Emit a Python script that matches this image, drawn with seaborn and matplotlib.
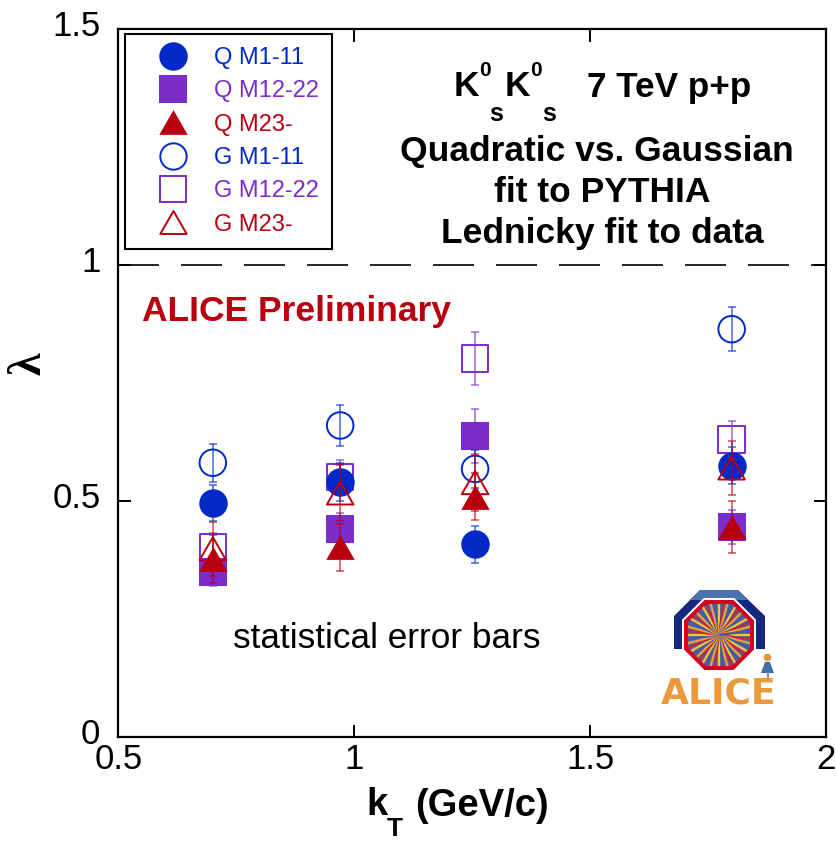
import numpy as np
import pandas as pd
import matplotlib
matplotlib.use('Agg')
import matplotlib.pyplot as plt
from matplotlib.collections import LineCollection
from matplotlib.lines import Line2D
from matplotlib.patches import Polygon
from matplotlib.path import Path
from matplotlib.transforms import ScaledTranslation
import seaborn as sns

BLUE, PURPLE, RED = '#0029C8', '#7B2CCB', '#B8000F'

kt = [0.70, 0.97, 1.256, 1.80]

q_m1 = [0.496, 0.541, 0.408, 0.575]
q_m1_err = [0.038, 0.040, 0.040, 0.040]
q_m12 = [0.350, 0.440, 0.637, 0.445]
q_m12_err = [0.030, 0.035, 0.057, 0.036]
q_m23 = [0.377, 0.402, 0.509, 0.445]
q_m23_err = [0.050, 0.050, 0.050, 0.056]
g_m1 = [0.581, 0.660, 0.568, 0.864]
g_m1_err = [0.040, 0.044, 0.040, 0.047]
g_m12 = [0.402, 0.551, 0.802, 0.630]
g_m12_err = [0.030, 0.036, 0.057, 0.040]
g_m23 = [0.399, 0.517, 0.539, 0.570]
g_m23_err = [0.057, 0.060, 0.060, 0.057]

TRI = Path([(-1, -0.87), (1, -0.87), (0, 0.87), (-1, -0.87)], closed=True)

# drawn back to front
series = [
    ('G M12-22', g_m12, g_m12_err, 's', PURPLE, False),
    ('Q M12-22', q_m12, q_m12_err, 's', PURPLE, True),
    ('G M1-11', g_m1, g_m1_err, 'o', BLUE, False),
    ('Q M1-11', q_m1, q_m1_err, 'o', BLUE, True),
    ('G M23-', g_m23, g_m23_err, TRI, RED, False),
    ('Q M23-', q_m23, q_m23_err, TRI, RED, True),
]
legend_order = ['Q M1-11', 'Q M12-22', 'Q M23-', 'G M1-11', 'G M12-22', 'G M23-']

sns.set_theme(style='ticks')
plt.rcParams['font.family'] = ['Liberation Sans', 'DejaVu Sans']

W, H = 837, 843
fig = plt.figure(figsize=(W/100, H/100), dpi=100)
ax = fig.add_axes([118.5/W, 1-737/H, 707.5/W, 708/H])

handles = {}
for i, (name, vals, errs, mk, col, filled) in enumerate(series):
    df = pd.DataFrame({'kt': kt, 'lam': vals})
    ax.errorbar(kt, vals, yerr=errs, fmt='none', ecolor=col, elinewidth=1.1, alpha=0.7,
                capsize=3.2, capthick=1.1, zorder=3+i*0.1)
    sns.scatterplot(data=df, x='kt', y='lam', ax=ax, marker=mk, s=420 if filled else 365,
                    color=col if filled else 'none', edgecolor=col,
                    linewidth=0 if filled else 1.4, zorder=3.05+i*0.1, legend=False)
    handles[name] = Line2D([], [], linestyle='none', marker=mk, markersize=20.5 if filled else 19,
                           markerfacecolor=col if filled else 'none', markeredgecolor=col,
                           markeredgewidth=0 if filled else 1.4, label=name, color=col)

ax.axhline(1, color='black', lw=1.2, linestyle=(0, (24.6, 13.2)), zorder=2)

ax.set_xlim(0.5, 2)
ax.set_ylim(0, 1.5)
ax.set_xticks([0.5, 1, 1.5, 2])
ax.set_xticklabels(['0.5', '1', '1.5', '2'])
ax.set_yticks([0, 0.5, 1, 1.5])
ax.set_yticklabels(['0', '0.5', '1', '1.5'])
ax.tick_params(direction='in', length=9, width=1.4, top=True, right=True, labelsize=25, colors='black')
ax.tick_params(axis='x', pad=4)
ax.tick_params(axis='y', pad=13)
ax.set_xlabel('')
ax.set_ylabel('')
for s in ax.spines.values():
    s.set_linewidth(1.6)
    s.set_color('black')
# y tick labels sit a little above their ticks in the original
up = ScaledTranslation(0, 4.5/72, fig.dpi_scale_trans)
for lab in ax.get_yticklabels():
    lab.set_transform(lab.get_transform() + up)

leg = ax.legend(handles=[handles[n] for n in legend_order], loc='upper left',
                bbox_to_anchor=(125/W, 1-34/H), bbox_transform=fig.transFigure, borderaxespad=0,
                fontsize=17, borderpad=0.55, handlelength=2.97, handletextpad=0.25,
                labelspacing=0.48, fancybox=False, framealpha=1, edgecolor='black')
leg.get_frame().set_linewidth(1.5)
leg.set_zorder(6)
for t, n in zip(leg.get_texts(), legend_order):
    t.set_color(handles[n].get_color())


def ptext(px, py, s, **kw):
    # text placed by picture position
    kw.setdefault('ha', 'center')
    kw.setdefault('va', 'center')
    kw.setdefault('color', 'black')
    return fig.text(px/W, 1-py/H, s, **kw)


ptext(30, 364, 'λ', fontsize=33, fontweight='bold', rotation=90, family=['Liberation Serif', 'DejaVu Serif'])
ptext(377, 805, 'k', fontsize=27.5, fontweight='bold')
ptext(395, 829, 'T', fontsize=19, fontweight='bold')
ptext(482, 806, '(GeV/c)', fontsize=27.5, fontweight='bold')

ptext(466, 86, 'K', fontsize=25.5, fontweight='bold')
ptext(485, 70, '0', fontsize=15, fontweight='bold')
ptext(496, 114, 's', fontsize=18, fontweight='bold')
ptext(517, 86, 'K', fontsize=25.5, fontweight='bold')
ptext(536, 70, '0', fontsize=15, fontweight='bold')
ptext(549, 114, 's', fontsize=18, fontweight='bold')
ptext(669, 87, '7 TeV p+p', fontsize=25.3, fontweight='bold')
ptext(597, 151, 'Quadratic vs. Gaussian', fontsize=25.5, fontweight='bold')
ptext(602, 193, 'fit to PYTHIA', fontsize=25.5, fontweight='bold')
ptext(602, 233, 'Lednicky fit to data', fontsize=25.5, fontweight='bold')
ptext(296, 312, 'ALICE Preliminary', fontsize=25.5, fontweight='bold', color=RED)
ptext(387, 638, 'statistical error bars', fontsize=25.3)

# ALICE logo, in picture pixels
logo = fig.add_axes([0, 0, 1, 1], facecolor='none')
logo.set_xlim(0, W)
logo.set_ylim(H, 0)
logo.axis('off')
logo.add_patch(Polygon([(674, 649), (674, 616), (700, 590), (738, 590), (765, 616), (765, 649)],
                       facecolor='#16277F', edgecolor='none'))
logo.add_patch(Polygon([(700, 590), (738, 590), (748, 600), (690, 600)], facecolor='#4A74AC', edgecolor='none'))


def octagon(cx, cy, r):
    a = np.deg2rad(22.5 + 45*np.arange(8))
    return np.column_stack([cx + r/np.cos(np.pi/8)*np.cos(a), cy + r/np.cos(np.pi/8)*np.sin(a)])


cx, cy = 719, 635
logo.add_patch(Polygon(octagon(cx, cy, 37), facecolor='white', edgecolor='none'))
logo.add_patch(Polygon(octagon(cx, cy, 35), facecolor='#D8001C', edgecolor='none'))
inner = Polygon(octagon(cx, cy, 31), facecolor='#5A5F9A', edgecolor='none')
logo.add_patch(inner)
ang = np.deg2rad(np.arange(0, 360, 7.5))
spokes = [[(cx, cy), (cx + 46*np.cos(a), cy + 46*np.sin(a))] for a in ang]
spoke_cols = ['#F2C53D', '#C0283C', '#E8A23A', '#3F5AA8'] * (len(spokes)//4)
lc = LineCollection(spokes, colors=spoke_cols, linewidths=1.6)
logo.add_collection(lc)
lc.set_clip_path(inner)
logo.add_patch(Polygon([(761, 673), (765, 662), (770, 662), (774, 673)], facecolor='#3F6FA5', edgecolor='none'))
logo.plot([767.5], [657], marker='o', ms=5.5, color='#E8963A', mew=0)
logo.plot([768, 768], [673, 679], color='#7A95B5', lw=1.5)
logo.text(719, 693, 'ALICE', fontsize=26, fontweight='bold', color='#EA9A3A', ha='center', va='center',
          family='DejaVu Sans')

fig.savefig('out.png', dpi=100)
